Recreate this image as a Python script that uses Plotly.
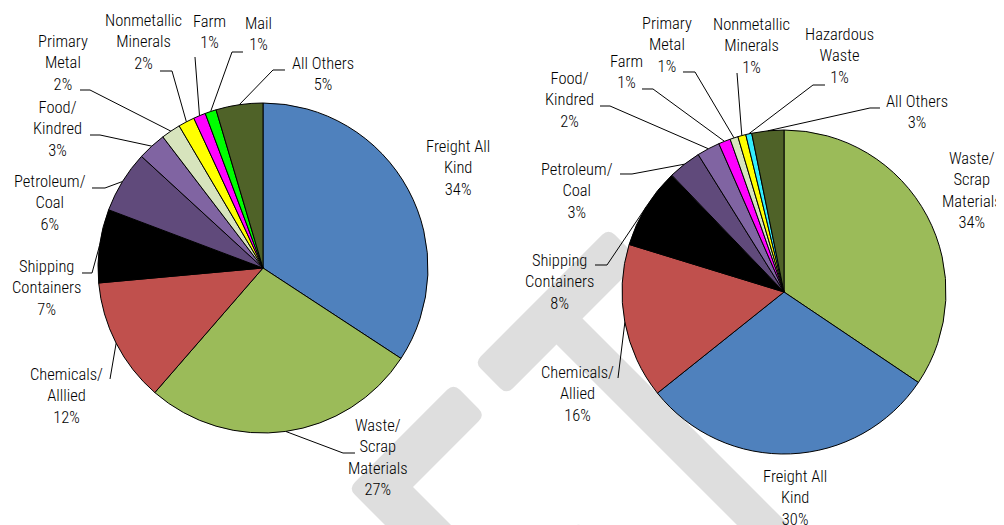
import math
import plotly.graph_objects as go

# page body has an 8px margin: the figure is drawn 8px right/down of the window corner
OFF = 8
W, H = 1004 - OFF, 525 - OFF

# ---------------- data ----------------
left_labels = ["Freight All<br>Kind", "Waste/<br>Scrap<br>Materials", "Chemicals/<br>Alllied",
               "Shipping<br>Containers", "Petroleum/<br>Coal", "Food/<br>Kindred",
               "Primary<br>Metal", "Nonmetallic<br>Minerals", "Farm", "Mail", "All Others"]
left_values = [34.3, 27.2, 12.2, 7.2, 6.1, 2.8, 1.9, 1.6, 1.2, 1.1, 4.6]
left_pct = [34, 27, 12, 7, 6, 3, 2, 2, 1, 1, 5]

right_labels = ["Waste/<br>Scrap<br>Materials", "Freight All<br>Kind", "Chemicals/<br>Allied",
                "Shipping<br>Containers", "Petroleum/<br>Coal", "Food/<br>Kindred",
                "Farm", "Primary<br>Metal", "Nonmetallic<br>Minerals", "Hazardous<br>Waste", "All Others"]
right_values = [34.5, 29.9, 15.5, 8.1, 3.3, 2.3, 1.2, 0.8, 0.8, 0.6, 3.2]
right_pct = [34, 30, 16, 8, 3, 2, 1, 1, 1, 1, 3]

# ---------------- styles / layout ----------------
C = {"freight": "#4f81bd", "waste": "#9bbb59", "chem": "#c0504d", "ship": "#000000",
     "petro": "#604a7b", "food": "#8064a2", "metal": "#d7e4bd", "nonmet": "#ffff00",
     "farm": "#ff00ff", "mail": "#00ff00", "haz": "#33eeff", "other": "#4f6228"}
left_colors = [C["freight"], C["waste"], C["chem"], C["ship"], C["petro"], C["food"],
               C["metal"], C["nonmet"], C["farm"], C["mail"], C["other"]]
right_colors = [C["waste"], C["freight"], C["chem"], C["ship"], C["petro"], C["food"],
                C["farm"], C["metal"], C["nonmet"], C["haz"], C["other"]]

# pie centre / radius in window pixels
LP = (263, 268, 165)
RP = (784, 292, 162)

# label centre, attach point (next to text), elbow point  (window pixels)
left_pos = [((458, 168), None, None),
            ((378, 457), (355, 453), (343, 453)),
            ((66, 396), (110, 379), (110, 379)),
            ((46, 288), (82, 273), (92, 273)),
            ((50, 203), (92, 188), (105, 188)),
            ((57, 129), (90, 135), (100, 135)),
            ((63, 63), (80, 90), (90, 90)),
            ((143, 42), (160, 71), (172, 71)),
            ((209, 32), (195, 57), (195, 57)),
            ((258, 34), (243, 52), (232, 52)),
            ((323, 74), (285, 70), (273, 70))]
right_pos = [((972, 190), None, None),
             ((795, 498), None, None),
             ((577, 394), (618, 378), (618, 378)),
             ((559, 282), (595, 265), (607, 265)),
             ((577, 191), (620, 174), (632, 174)),
             ((569, 100), (600, 106), (610, 106)),
             ((626, 72), (642, 89), (653, 89)),
             ((667, 45), (683, 72), (695, 72)),
             ((751, 46), (737, 73), (737, 73)),
             ((839, 56), (825, 85), (813, 85)),
             ((917, 112), (880, 108), (870, 108))]

FONT = "Roboto Condensed, Liberation Sans, sans-serif"
TXT = "#000000"


def px(x, y):
    return (x - OFF) / W, 1 - (y - OFF) / H


def domain(c):
    cx, cy, r = c
    x0, y0 = px(cx - r, cy + r)
    x1, y1 = px(cx + r, cy - r)
    return dict(x=[x0, x1], y=[y0, y1])


fig = go.Figure()
for labels, values, colors, c in [(left_labels, left_values, left_colors, LP),
                                  (right_labels, right_values, right_colors, RP)]:
    fig.add_trace(go.Pie(labels=labels, values=values, sort=False, direction="clockwise",
                         rotation=0, textinfo="none", hoverinfo="label+percent",
                         marker=dict(colors=colors, line=dict(color="#000000", width=1)),
                         domain=domain(c), showlegend=False))

annotations = []
shapes = []


def add_labels(labels, values, pct, pos, c):
    cx, cy, r = c
    total = sum(values)
    cum = 0.0
    for lab, v, p, (lc, att, elb) in zip(labels, values, pct, pos):
        mid = (cum + v / 2) / total * 2 * math.pi
        cum += v
        ax, ay = px(*lc)
        annotations.append(dict(x=ax, y=ay, xref="paper", yref="paper", showarrow=False,
                                text=f"{lab}<br>{p}%", align="center",
                                xanchor="center", yanchor="middle",
                                font=dict(family=FONT, size=16.5, color=TXT, weight=300)))
        if att is not None:
            sx, sy = cx + r * math.sin(mid), cy - r * math.cos(mid)
            pts = [px(*att), px(*elb), px(sx, sy)]
            path = "M {:.5f},{:.5f} L {:.5f},{:.5f} L {:.5f},{:.5f}".format(
                pts[0][0], pts[0][1], pts[1][0], pts[1][1], pts[2][0], pts[2][1])
            shapes.append(dict(type="path", path=path, xref="paper", yref="paper",
                               line=dict(color="#000000", width=1)))


add_labels(left_labels, left_values, left_pct, left_pos, LP)
add_labels(right_labels, right_values, right_pct, right_pos, RP)


# ---------------- watermark (part of a diagonal "DRAFT") ----------------
def st(s, t):
    return ((s + t) / 2, (t - s) / 2)


def rounded_path(verts, rad=9):
    n = len(verts)
    d = ""
    for i in range(n):
        (x, y), rr = verts[i]
        (xp, yp), _ = verts[i - 1]
        (xn, yn), _ = verts[(i + 1) % n]
        if rr:
            l1 = math.hypot(xp - x, yp - y)
            l2 = math.hypot(xn - x, yn - y)
            p1 = (x + (xp - x) * rad / l1, y + (yp - y) * rad / l1)
            p2 = (x + (xn - x) * rad / l2, y + (yn - y) * rad / l2)
            a, b = px(*p1), px(*p2)
            c0 = px(x, y)
            d += ("M" if i == 0 else " L") + f" {a[0]:.5f},{a[1]:.5f}"
            d += f" Q {c0[0]:.5f},{c0[1]:.5f} {b[0]:.5f},{b[1]:.5f}"
        else:
            a = px(x, y)
            d += ("M" if i == 0 else " L") + f" {a[0]:.5f},{a[1]:.5f}"
    return d + " Z"


T_shape = [((112, 837), 1), ((380, 837), 1), ((380, 901), 1), ((264, 901), 0),
           ((264, 1500), 0), ((212, 1500), 0), ((212, 901), 0), ((112, 901), 1)]
F_shape = [((-140, 837), 1), ((70, 837), 1), ((70, 900), 1), ((-74, 900), 0),
           ((-74, 1100), 0), ((57, 1100), 1), ((57, 1162), 1), ((-74, 1162), 0),
           ((-74, 1500), 0), ((-140, 1500), 0)]
for shp in (T_shape, F_shape):
    verts = [(st(*p), r) for p, r in shp]
    shapes.insert(0, dict(type="path", path=rounded_path(verts), xref="paper", yref="paper",
                          fillcolor="#dedede", line=dict(width=0), layer="below"))

fig.update_layout(width=W, height=H, margin=dict(l=0, r=0, t=0, b=0),
                  paper_bgcolor="#ffffff", plot_bgcolor="#ffffff",
                  annotations=annotations, shapes=shapes)

fig.write_html("out.html")
